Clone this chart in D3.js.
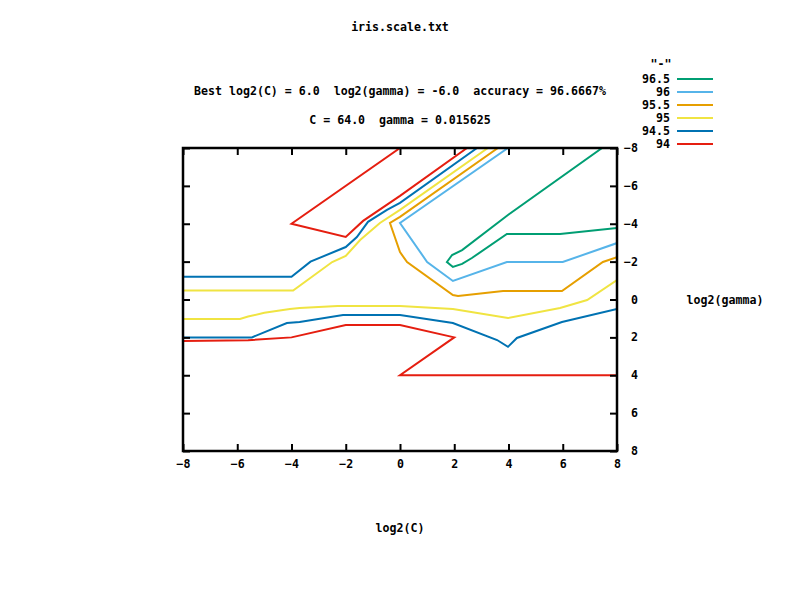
<!DOCTYPE html>
<html><head><meta charset="utf-8">
<script src="https://cdn.jsdelivr.net/npm/d3@7"></script>
<style>
body{margin:0;background:#fff;}
text{font-family:"DejaVu Sans Mono","Liberation Mono",monospace;font-weight:bold;font-size:11.6px;fill:#000;white-space:pre;}
</style></head>
<body><svg id="chart" width="800" height="600"></svg>
<script>
const title = "iris.scale.txt";
const subtitle1 = "Best log2(C) = 6.0  log2(gamma) = -6.0  accuracy = 96.6667%";
const subtitle2 = "C = 64.0  gamma = 0.015625";
const xLabel = "log2(C)";
const yLabel = "log2(gamma)";
const legendTitle = '"-"';
const xTicks = [-8,-6,-4,-2,0,2,4,6,8];
const yTicks = [-8,-6,-4,-2,0,2,4,6,8];
const levels = ["96.5","96","95.5","95","94.5","94"];
const colors = ["#009e73","#56b4e9","#e69f00","#f0e442","#0072b2","#e51e10"];

// contour paths: [log2(C), log2(gamma)]
const c965 = [[[7.45,-8],[3.98,-4.46],[2.29,-2.61],[1.92,-2.35],[1.73,-1.98],[1.95,-1.72],[2.29,-1.88],[2.65,-2.19],[3.94,-3.46],[5.9,-3.46],[8,-3.78]]];
const c96 = [[[3.98,-8],[0,-4.04],[1,-1.98],[1.95,-0.98],[3.94,-1.98],[6.0,-1.98],[8,-2.98]]];
const c955 = [[[3.61,-8],[0,-4.36],[-0.37,-4.04],[0,-2.5],[0.26,-1.98],[1.95,-0.24],[2.14,-0.19],[3.8,-0.45],[5.97,-0.45],[7.48,-1.98],[8,-2.24]]];
const c95 = [
  [[-8,-0.47],[-3.94,-0.47],[-2.5,-1.98],[-2,-2.3],[-1.47,-3.14],[-0.74,-4.04],[0,-4.73],[3.24,-8]],
  [[-8,1.03],[-5.9,1.03],[-5.6,0.9],[-5.0,0.7],[-4.06,0.5],[-3.7,0.45],[-2.3,0.34],[0,0.34],[1.95,0.5],[3.98,0.98],[5.9,0.45],[6.9,0.03],[8,-1.03]]
];
const c945 = [
  [[-8,-1.2],[-4,-1.2],[-3.3,-2.0],[-2,-2.77],[-1.59,-3.3],[-1.18,-4.1],[-0.48,-4.73],[0,-5.1],[2.84,-8]],
  [[-8,2.0],[-5.46,2.0],[-4.17,1.24],[-3.7,1.19],[-2.1,0.82],[0,0.82],[1.95,1.24],[3.58,2.14],[3.98,2.5],[4.31,2.03],[5.97,1.19],[8,0.5]]
];
const c94 = [
  [[0,-8],[-4,-4],[-2,-3.3],[-1.36,-4.15],[0,-5.47],[2.47,-8]],
  [[-8,2.19],[-5.6,2.15],[-4,2.0],[-2,1.35],[0,1.35],[2,2],[0,4],[8,4]]
];
const contours = [c965,c96,c955,c95,c945,c94];

const svg = d3.select("#chart");
const L=183,R=617,T=148,B=451;
const x = d3.scaleLinear().domain([-8,8]).range([L,R]);
const y = d3.scaleLinear().domain([-8,8]).range([T,B]);

// titles
svg.append("text").attr("x",400).attr("y",31).attr("text-anchor","middle").attr("xml:space","preserve").text(title);
svg.append("text").attr("x",400).attr("y",95).attr("text-anchor","middle").attr("xml:space","preserve").text(subtitle1);
svg.append("text").attr("x",400).attr("y",124).attr("text-anchor","middle").attr("xml:space","preserve").text(subtitle2);

// clip
svg.append("clipPath").attr("id","clip").append("rect").attr("x",L).attr("y",T).attr("width",R-L).attr("height",B-T);

const line = d3.line().x(d=>x(d[0])).y(d=>y(d[1]));
const g = svg.append("g").attr("clip-path","url(#clip)");
contours.forEach((set,i)=>{
  set.forEach(p=>{
    g.append("path").attr("d",line(p)).attr("fill","none").attr("stroke",colors[i]).attr("stroke-width",2);
  });
});

// axes ticks
const tl = 7;
const axB = svg.append("g").attr("transform",`translate(0,${B})`).call(d3.axisBottom(x).tickValues(xTicks).tickSize(-tl).tickPadding(tl+6).tickFormat(d3.format("d")));
const axT = svg.append("g").attr("transform",`translate(0,${T})`).call(d3.axisTop(x).tickValues(xTicks).tickSize(-tl).tickFormat(""));
const axL = svg.append("g").attr("transform",`translate(${L},0)`).call(d3.axisLeft(y).tickValues(yTicks).tickSize(-tl).tickFormat(""));
const axR = svg.append("g").attr("transform",`translate(${R},0)`).call(d3.axisRight(y).tickValues(yTicks).tickSize(-tl).tickFormat(""));
[axB,axT,axL,axR].forEach(a=>{a.select(".domain").remove();a.selectAll("line").attr("stroke","#000").attr("stroke-width",2);});
axB.selectAll("text").attr("font-family",null).attr("font-size",null).attr("dy",null).attr("y",17);
// right-side y labels
svg.append("g").selectAll("text").data(yTicks).join("text")
  .attr("x",638).attr("y",d=>y(d)+4).attr("text-anchor","end").text(d=>d3.format("d")(d));

svg.append("rect").attr("x",L).attr("y",T).attr("width",R-L).attr("height",B-T).attr("fill","none").attr("stroke","#000").attr("stroke-width",2.5);

svg.append("text").attr("x",725).attr("y",304).attr("text-anchor","middle").text(yLabel);
svg.append("text").attr("x",400).attr("y",532).attr("text-anchor","middle").text(xLabel);

// legend
svg.append("text").attr("x",661).attr("y",68).attr("text-anchor","middle").text(legendTitle);
levels.forEach((lv,i)=>{
  const yy = 79 + i*13;
  svg.append("text").attr("x",670).attr("y",yy+4).attr("text-anchor","end").text(lv);
  svg.append("line").attr("x1",677).attr("x2",713).attr("y1",yy).attr("y2",yy).attr("stroke",colors[i]).attr("stroke-width",2);
});
</script></body></html>
